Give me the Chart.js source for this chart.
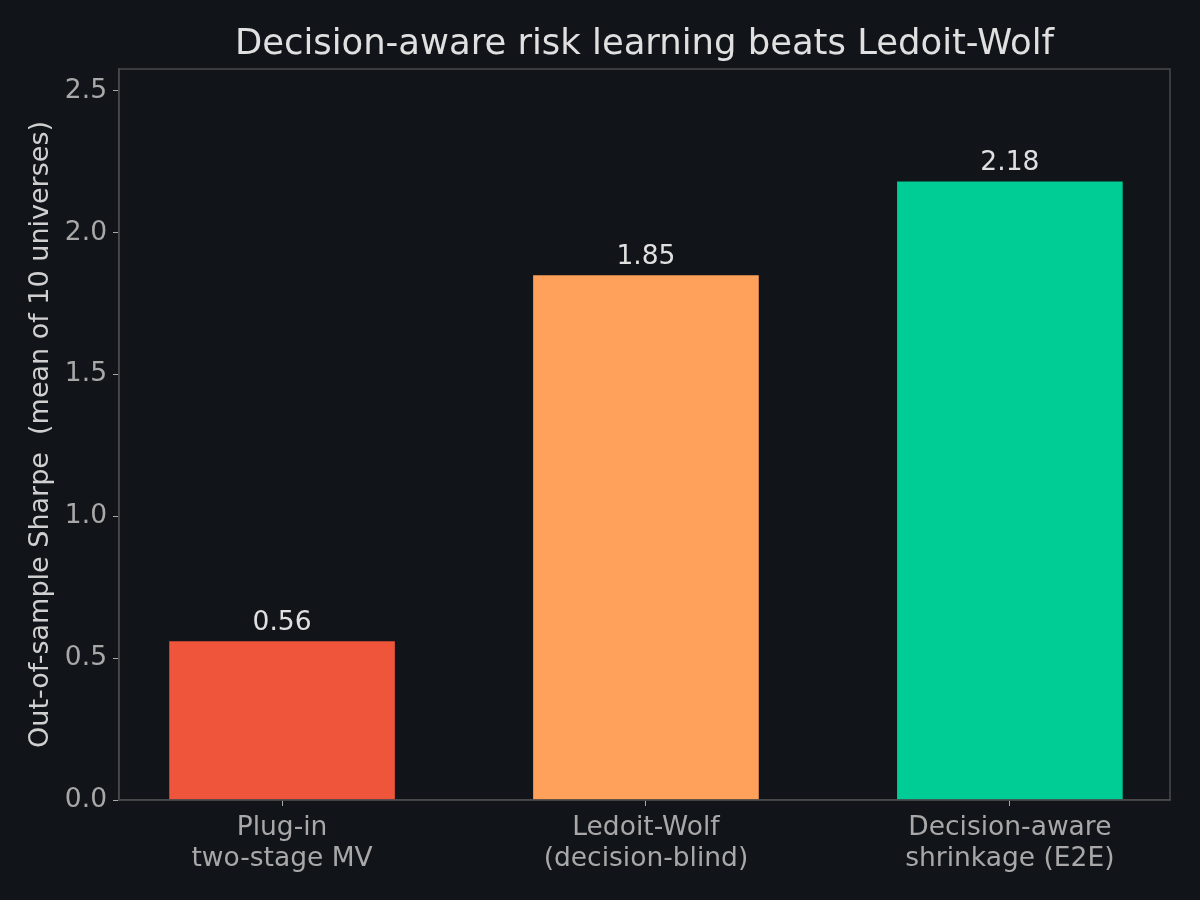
<!DOCTYPE html>
<html>
<head>
<meta charset="utf-8">
<script src="https://cdn.jsdelivr.net/npm/chart.js@4/dist/chart.umd.min.js"></script>
<style>
  html, body { margin: 0; padding: 0; background: #111419; }
  #wrap { width: 1200px; height: 900px; }
</style>
</head>
<body>
<div id="wrap"><canvas id="chart" width="1200" height="900"></canvas></div>
<script>
// data
const categories = [
    ["Plug-in", "two-stage MV"],
    ["Ledoit-Wolf", "(decision-blind)"],
    ["Decision-aware", "shrinkage (E2E)"]
];
const sharpeValues = [0.56, 1.85, 2.18];
const barColors = ["#ef553b", "#ffa15a", "#00cc96"];
const yTicks = [0, 0.5, 1.0, 1.5, 2.0, 2.5];
const chartTitle = "Decision-aware risk learning beats Ledoit-Wolf";

const FONT = "'DejaVu Sans', sans-serif";

// frame round the plot area, value labels over bars, title centred on the axes
const framePlugin = {
    id: "frame",
    afterDatasetsDraw(chart) {
        const {ctx, chartArea: a} = chart;
        ctx.save();
        ctx.strokeStyle = "#4a4a4a";
        ctx.lineWidth = 1.5;
        ctx.strokeRect(a.left, a.top, a.right - a.left, a.bottom - a.top);

        ctx.fillStyle = "#e0e0e0";
        ctx.font = "26.5px " + FONT;
        ctx.textAlign = "center";
        ctx.textBaseline = "bottom";
        let meta = chart.getDatasetMeta(0);
        meta.data.forEach((bar, i) => {
            ctx.fillText(sharpeValues[i].toFixed(2), bar.x, bar.y - 5);
        });

        ctx.font = "35.4px " + FONT;
        ctx.textBaseline = "middle";
        ctx.fillText(chartTitle, (a.left + a.right) / 2, 45);
        ctx.restore();
    }
};

new Chart(document.getElementById("chart").getContext("2d"), {
    type: "bar",
    data: {
        datasets: [{
            data: sharpeValues.map((v, i) => ({x: i, y: v})),
            backgroundColor: barColors,
            borderWidth: 0,
            categoryPercentage: 1.0,
            barPercentage: 0.62
        }]
    },
    options: {
        responsive: false,
        animation: false,
        layout: { padding: { left: 0, right: 30, top: 69, bottom: 0 } },
        scales: {
            x: {
                type: "linear",
                offset: false,
                min: -0.448,
                max: 2.44,
                afterBuildTicks: (scale) => {
                    scale.ticks = categories.map((c, i) => ({value: i}));
                },
                afterFit: (scale) => { scale.height = 100; },
                ticks: {
                    autoSkip: false,
                    maxRotation: 0,
                    color: "#a8a8a8",
                    font: { family: FONT, size: 26.5, lineHeight: 1.15 },
                    padding: 7,
                    callback: (v) => categories[v]
                },
                grid: {
                    offset: false,
                    drawOnChartArea: false,
                    drawTicks: true,
                    tickLength: 6,
                    color: "#a8a8a8"
                },
                border: { color: "#4a4a4a", width: 1.5 }
            },
            y: {
                min: 0,
                max: 2.577,
                afterBuildTicks: (scale) => {
                    scale.ticks = yTicks.map(v => ({value: v}));
                },
                afterFit: (scale) => { scale.width = 119; },
                ticks: {
                    color: "#a8a8a8",
                    font: { family: FONT, size: 26.5 },
                    padding: 6,
                    callback: (v) => v.toFixed(1)
                },
                grid: {
                    drawOnChartArea: false,
                    drawTicks: true,
                    tickLength: 6,
                    color: "#a8a8a8"
                },
                border: { color: "#4a4a4a", width: 1.5 },
                title: {
                    display: true,
                    text: "Out-of-sample Sharpe  (mean of 10 universes)",
                    color: "#d0d0d0",
                    font: { family: FONT, size: 27 },
                    padding: { top: 25, bottom: 0 }
                }
            }
        },
        plugins: {
            legend: { display: false },
            tooltip: { enabled: false },
            title: { display: false }
        }
    },
    plugins: [framePlugin]
});
</script>
</body>
</html>
